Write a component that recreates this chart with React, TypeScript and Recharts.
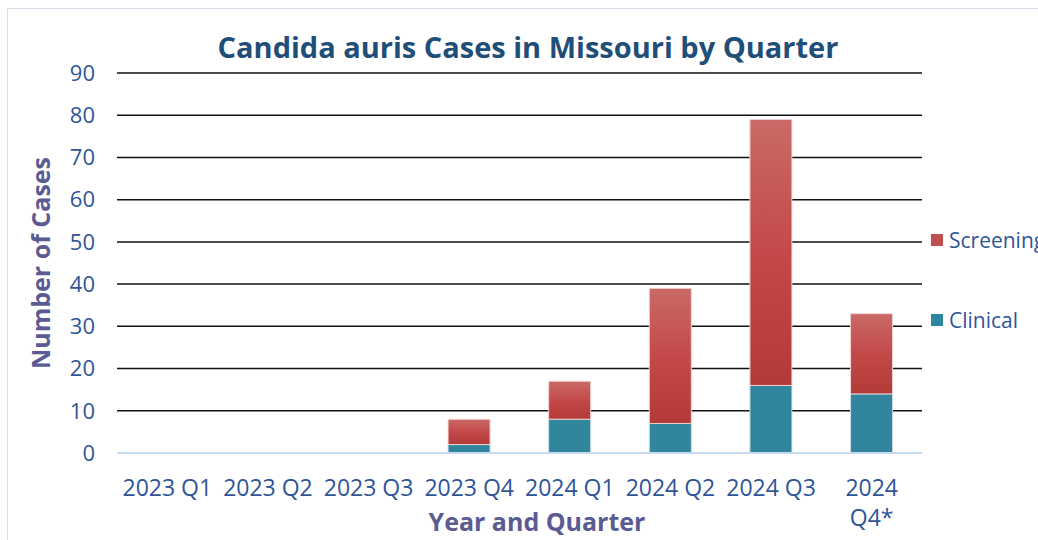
import React from "react";
import { BarChart, Bar, XAxis, YAxis, CartesianGrid, Label } from "recharts";

const quarters = ["2023 Q1", "2023 Q2", "2023 Q3", "2023 Q4", "2024 Q1", "2024 Q2", "2024 Q3", "2024 Q4*"];
const clinical = [0, 0, 0, 2, 8, 7, 16, 14];
const screening = [0, 0, 0, 6, 9, 32, 63, 19];
const yTicks = [0, 10, 20, 30, 40, 50, 60, 70, 80, 90];

const data = quarters.map((q, i) => ({ quarter: q, clinical: clinical[i], screening: screening[i] }));

const FONT = "'Open Sans', sans-serif";
const TICK_COLOR = "#2f5597";
const AXIS_TITLE_COLOR = "#5b5b93";

function QuarterTick(props: any) {
    const { x, y, payload } = props;
    const label: string = payload.value;
    // long labels wrap onto two lines like the original
    const lines = label.length > 7 ? label.split(" ") : [label];
    return (
        <text x={x} y={y} textAnchor="middle" fill={TICK_COLOR} fontSize={23} fontFamily={FONT}>
            {lines.map((l, i) => (
                <tspan key={i} x={x} dy={i === 0 ? 35 : 30}>
                    {l}
                </tspan>
            ))}
        </text>
    );
}

export default function App() {
    return (
        <div
            style={{
                position: "fixed",
                left: 0,
                top: 0,
                width: 1038,
                height: 540,
                overflow: "hidden",
                background: "#fff",
                fontFamily: FONT,
            }}
        >
            <div
                style={{
                    position: "absolute",
                    left: 7,
                    top: 8,
                    width: 1100,
                    height: 600,
                    borderLeft: "1px solid #d5dfea",
                    borderTop: "1px solid #d5dfea",
                }}
            />
            <div
                style={{
                    position: "absolute",
                    left: 0,
                    width: 1056,
                    top: 29,
                    textAlign: "center",
                    fontSize: 29,
                    fontWeight: 700,
                    color: "#1f4e79",
                    lineHeight: "36px",
                }}
            >
                Candida auris Cases in Missouri by Quarter
            </div>
            <div style={{ position: "absolute", left: 0, top: 0 }}>
                <BarChart
                    width={1038}
                    height={540}
                    data={data}
                    margin={{ top: 73, right: 116, bottom: 27, left: 57 }}
                    barCategoryGap="29%"
                >
                    <defs>
                        <linearGradient id="screenGrad" x1="0" y1="0" x2="0" y2="1">
                            <stop offset="0%" stopColor="#c96a66" />
                            <stop offset="50%" stopColor="#c4494a" />
                            <stop offset="100%" stopColor="#b23a37" />
                        </linearGradient>
                    </defs>
                    <CartesianGrid vertical={false} stroke="#111" strokeWidth={1.5} />
                    <XAxis
                        dataKey="quarter"
                        height={60}
                        tickLine={false}
                        axisLine={{ stroke: "#c6d9f1", strokeWidth: 2 }}
                        tick={<QuarterTick />}
                        interval={0}
                    >
                        <Label
                            content={() => (
                                <text
                                    x={537}
                                    y={521}
                                    textAnchor="middle"
                                    dominantBaseline="central"
                                    fill={AXIS_TITLE_COLOR}
                                    fontSize={25}
                                    fontWeight={700}
                                    fontFamily={FONT}
                                >
                                    Year and Quarter
                                </text>
                            )}
                        />
                    </XAxis>
                    <YAxis
                        width={60}
                        domain={[0, 90]}
                        ticks={yTicks}
                        interval={0}
                        axisLine={false}
                        tickLine={false}
                        tickMargin={16}
                        tick={{ fill: TICK_COLOR, fontSize: 22, fontFamily: FONT }}
                    >
                        <Label
                            content={() => (
                                <text
                                    x={40}
                                    y={263}
                                    transform="rotate(-90, 40, 263)"
                                    textAnchor="middle"
                                    dominantBaseline="central"
                                    fill={AXIS_TITLE_COLOR}
                                    fontSize={25}
                                    fontWeight={700}
                                    fontFamily={FONT}
                                >
                                    Number of Cases
                                </text>
                            )}
                        />
                    </YAxis>
                    <Bar
                        dataKey="clinical"
                        stackId="a"
                        fill="#31859c"
                        stroke="#c9dde6"
                        strokeWidth={1}
                        isAnimationActive={false}
                    />
                    <Bar
                        dataKey="screening"
                        stackId="a"
                        fill="url(#screenGrad)"
                        stroke="#f1d3d2"
                        strokeWidth={1}
                        isAnimationActive={false}
                    />
                </BarChart>
            </div>
            {[
                { name: "Screening", color: "#c0504d", y: 240 },
                { name: "Clinical", color: "#31859c", y: 320 },
            ].map((item) => (
                <div
                    key={item.name}
                    style={{
                        position: "absolute",
                        left: 931,
                        top: item.y - 15,
                        height: 30,
                        display: "flex",
                        alignItems: "center",
                        whiteSpace: "nowrap",
                        fontSize: 21,
                        color: TICK_COLOR,
                    }}
                >
                    <span
                        style={{
                            display: "inline-block",
                            width: 12,
                            height: 12,
                            background: item.color,
                            marginRight: 6,
                        }}
                    />
                    {item.name}
                </div>
            ))}
        </div>
    );
}
